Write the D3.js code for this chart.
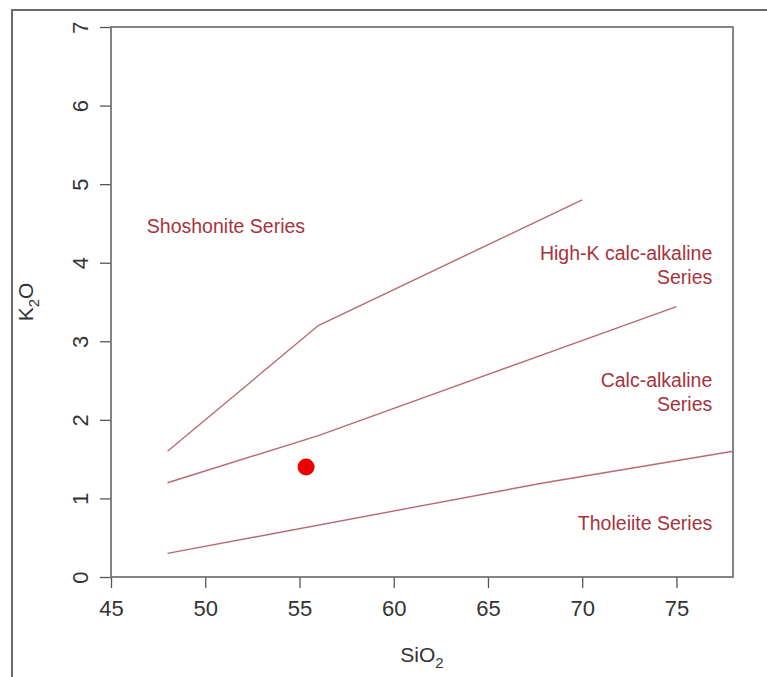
<!DOCTYPE html>
<html>
<head>
<meta charset="utf-8">
<script src="https://cdn.jsdelivr.net/npm/d3@7"></script>
<style>
  body { margin: 0; background: #fff; }
  text { font-family: "Liberation Sans", Arial, sans-serif; }
</style>
</head>
<body>
<div id="chart"></div>
<script>
// K2O vs SiO2 classification (Peccerillo & Taylor style)
var w = 767, h = 677;
var margin = {left: 111, right: 34, top: 27, bottom: 100};

var xTicks = [45, 50, 55, 60, 65, 70, 75];
var yTicks = [0, 1, 2, 3, 4, 5, 6, 7];

// boundary lines [SiO2, K2O]
var tholeiiteLine = [[48, 0.3], [68, 1.2], [78, 1.6]];
var calcAlkLine = [[48, 1.2], [56, 1.8], [75, 3.44]];
var highKLine = [[48, 1.6], [56, 3.2], [70, 4.8]];
var boundaries = [tholeiiteLine, calcAlkLine, highKLine];

// the sample
var samples = [{sio2: 55.35, k2o: 1.4}];

// field names: lines of text, anchor position in data units
var fieldLabels = [
  {lines: ["Shoshonite Series"], x: 51.1, y: 4.38, anchor: "middle"},
  {lines: ["High-K calc-alkaline", "Series"], x: 76.9, y: 4.03, anchor: "end"},
  {lines: ["Calc-alkaline", "Series"], x: 76.9, y: 2.42, anchor: "end"},
  {lines: ["Tholeiite Series"], x: 76.9, y: 0.6, anchor: "end"}
];

var lineCol = "#b86a72";
var labelCol = "#a8323c";

var svg = d3.select("#chart").append("svg")
    .attr("width", w)
    .attr("height", h);

// outer frame
svg.append("rect")
    .attr("x", 12).attr("y", 10)
    .attr("width", w + 20).attr("height", h + 20)
    .attr("fill", "none")
    .attr("stroke", "#6a6a6a")
    .attr("stroke-width", 2);

var xScale = d3.scaleLinear()
    .domain([45, 78])
    .range([margin.left, w - margin.right]);
var yScale = d3.scaleLinear()
    .domain([0, 7])
    .range([h - margin.bottom, margin.top]);

var xAxis = d3.axisBottom(xScale).tickValues(xTicks).tickSize(11).tickPadding(12);
var yAxis = d3.axisLeft(yScale).tickValues(yTicks).tickFormat(d3.format("d")).tickSize(11);

var gx = svg.append("g")
    .attr("transform", `translate(0, ${h - margin.bottom})`)
    .call(xAxis);
gx.select(".domain").remove();
gx.selectAll("line").attr("stroke", "#555").attr("stroke-width", 1.3);
gx.selectAll("text").attr("font-size", 22).attr("fill", "#333");

var gy = svg.append("g")
    .attr("transform", `translate(${margin.left}, 0)`)
    .call(yAxis);
gy.select(".domain").remove();
gy.selectAll("line").attr("stroke", "#555").attr("stroke-width", 1.3);
gy.selectAll(".tick text")
    .attr("font-size", 22).attr("fill", "#333")
    .attr("text-anchor", "middle")
    .attr("dy", null)
    .attr("transform", "translate(-31, 0) rotate(-90)")
    .attr("x", 0).attr("y", 8);

// plot box
svg.append("rect")
    .attr("x", xScale(45)).attr("y", yScale(7))
    .attr("width", xScale(78) - xScale(45))
    .attr("height", yScale(0) - yScale(7))
    .attr("fill", "none")
    .attr("stroke", "#777")
    .attr("stroke-width", 1.8);

var line = d3.line()
    .x(d => xScale(d[0]))
    .y(d => yScale(d[1]));

svg.selectAll(".boundary")
    .data(boundaries)
    .enter()
    .append("path")
    .attr("class", "boundary")
    .attr("d", line)
    .attr("fill", "none")
    .attr("stroke", lineCol)
    .attr("stroke-width", 1.4);

fieldLabels.forEach(l => {
  var t = svg.append("text")
      .attr("x", xScale(l.x))
      .attr("y", yScale(l.y))
      .attr("text-anchor", l.anchor)
      .attr("font-size", 19.5)
      .attr("fill", labelCol);
  l.lines.forEach((s, i) => {
    t.append("tspan")
        .attr("x", xScale(l.x))
        .attr("dy", i === 0 ? 0 : 24)
        .text(s);
  });
});

svg.selectAll(".sample")
    .data(samples)
    .enter()
    .append("circle")
    .attr("class", "sample")
    .attr("cx", d => xScale(d.sio2))
    .attr("cy", d => yScale(d.k2o))
    .attr("r", 8.5)
    .attr("fill", "#ee0000");

// axis titles
var xt = svg.append("text")
    .attr("x", xScale(61.5))
    .attr("y", 662)
    .attr("text-anchor", "middle")
    .attr("font-size", 21)
    .attr("fill", "#333");
xt.append("tspan").text("SiO");
xt.append("tspan").attr("font-size", 15).attr("dy", 6).text("2");

var yt = svg.append("text")
    .attr("transform", `translate(33, ${yScale(3.5)}) rotate(-90)`)
    .attr("text-anchor", "middle")
    .attr("font-size", 21)
    .attr("fill", "#333");
yt.append("tspan").text("K");
yt.append("tspan").attr("font-size", 15).attr("dy", 6).text("2");
yt.append("tspan").attr("dy", -6).text("O");
</script>
</body>
</html>
